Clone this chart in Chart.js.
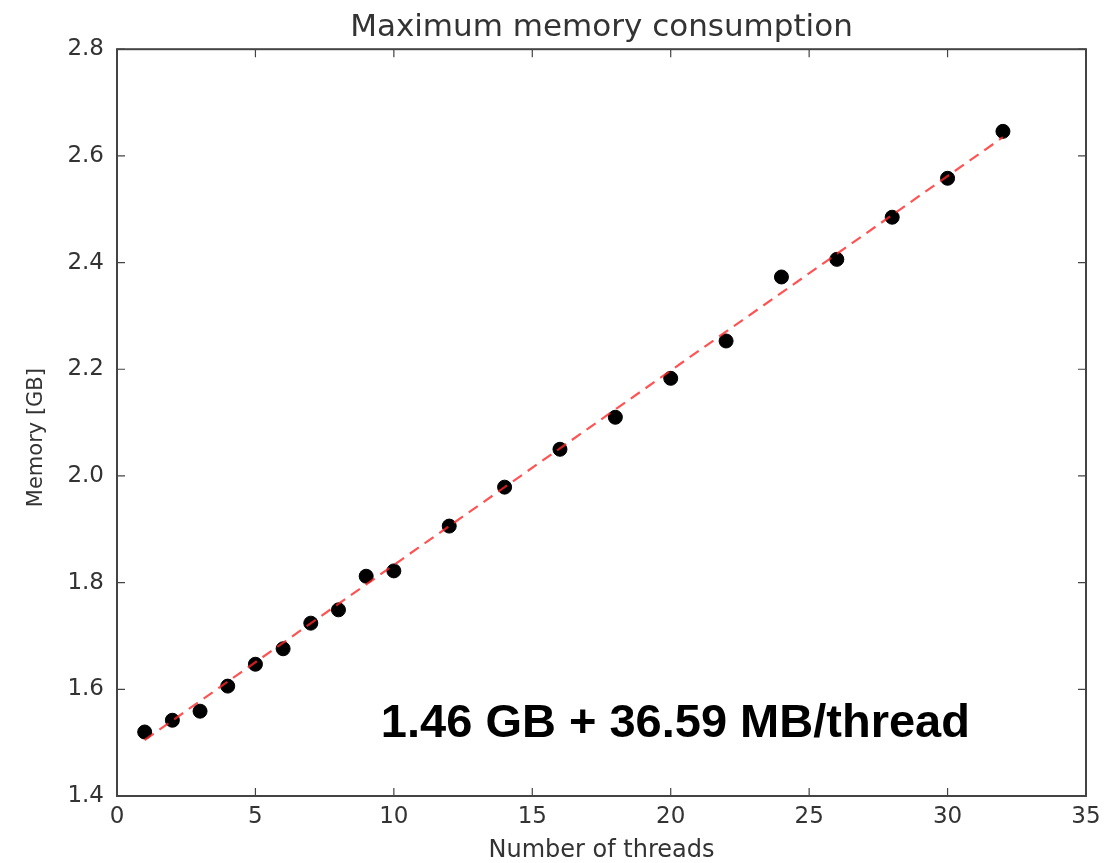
<!DOCTYPE html>
<html>
<head>
<meta charset="utf-8">
<title>Maximum memory consumption</title>
<script src="https://cdn.jsdelivr.net/npm/chart.js@4.4.1/dist/chart.umd.min.js"></script>
<style>
  html, body { margin: 0; padding: 0; background: #fff; }
  #wrap { width: 1115px; height: 863px; }
</style>
</head>
<body>
<div id="wrap"><canvas id="memChart" width="1115" height="863"></canvas></div>
<script>
// --- data ---
const threads = [1, 2, 3, 4, 5, 6, 7, 8, 9, 10, 12, 14, 16, 18, 20, 22, 24, 26, 28, 30, 32];
const memoryGB = [1.520, 1.542, 1.559, 1.606, 1.647, 1.676, 1.724, 1.749, 1.812, 1.822,
                  1.906, 1.979, 2.050, 2.110, 2.183, 2.253, 2.373, 2.406, 2.485, 2.558, 2.646];

// fitted line, read at its two ends
const fitThreads = [1, 32];
const fitMemory = [1.505, 2.635];

const fitLabel = '1.46 GB + 36.59 MB/thread';
const yTitle = 'Memory [GB]';

const xTicks = [0, 5, 10, 15, 20, 25, 30, 35];
const yTicks = [1.4, 1.6, 1.8, 2.0, 2.2, 2.4, 2.6, 2.8];

const FONT = '"DejaVu Sans", sans-serif';
const INK = '#333';
const FRAME = '#444';

// frame + inward ticks, matplotlib style
const framePlugin = {
    id: 'frame',
    afterDraw(chart) {
        const { ctx, chartArea: a, scales } = chart;
        ctx.save();
        ctx.strokeStyle = FRAME;
        ctx.lineWidth = 2;
        ctx.strokeRect(a.left, a.top, a.right - a.left, a.bottom - a.top);
        ctx.lineWidth = 1.2;
        ctx.beginPath();
        xTicks.forEach(v => {
            const px = scales.x.getPixelForValue(v);
            ctx.moveTo(px, a.bottom); ctx.lineTo(px, a.bottom - 8);
            ctx.moveTo(px, a.top); ctx.lineTo(px, a.top + 8);
        });
        yTicks.forEach(v => {
            const py = scales.y.getPixelForValue(v);
            ctx.moveTo(a.left, py); ctx.lineTo(a.left + 8, py);
            ctx.moveTo(a.right, py); ctx.lineTo(a.right - 8, py);
        });
        ctx.stroke();

        // y axis title (sits a bit below the axis middle in the original)
        ctx.save();
        ctx.translate(37, (a.top + a.bottom) / 2 + 15);
        ctx.rotate(-Math.PI / 2);
        ctx.fillStyle = INK;
        ctx.font = '21px ' + FONT;
        ctx.textAlign = 'center';
        ctx.textBaseline = 'middle';
        ctx.fillText(yTitle, 0, 0);
        ctx.restore();

        // fit annotation, anchored in data units
        ctx.fillStyle = '#000';
        ctx.font = 'bold 47px "Liberation Sans", Arial, sans-serif';
        ctx.textAlign = 'left';
        ctx.textBaseline = 'alphabetic';
        ctx.fillText(fitLabel, scales.x.getPixelForValue(9.53), scales.y.getPixelForValue(1.511));
        ctx.restore();
    }
};

new Chart(document.getElementById('memChart'), {
    type: 'scatter',
    data: {
        datasets: [
            {
                type: 'line',
                label: 'fit',
                data: fitThreads.map((t, i) => ({ x: t, y: fitMemory[i] })),
                borderColor: 'rgba(255, 40, 40, 0.8)',
                borderWidth: 2.2,
                borderDash: [11, 7],
                pointRadius: 0,
                fill: false,
                order: 0
            },
            {
                label: 'memory',
                data: threads.map((t, i) => ({ x: t, y: memoryGB[i] })),
                backgroundColor: '#000',
                borderColor: '#000',
                pointRadius: 7,
                order: 1
            }
        ]
    },
    options: {
        responsive: false,
        animation: false,
        layout: { padding: { left: 0, right: 29, top: 0, bottom: 0 } },
        plugins: {
            legend: { display: false },
            tooltip: { enabled: false },
            title: {
                display: true,
                fullSize: false,
                text: 'Maximum memory consumption',
                color: INK,
                font: { family: FONT, size: 31, weight: 'normal' },
                padding: { top: 9, bottom: 3 }
            }
        },
        scales: {
            x: {
                type: 'linear',
                min: 0, max: 35,
                afterBuildTicks: s => { s.ticks = xTicks.map(v => ({ value: v })); },
                afterFit: s => { s.height = 67; },
                grid: { display: false, drawTicks: false },
                border: { display: false },
                ticks: { color: INK, font: { family: FONT, size: 23 }, padding: 7 },
                title: {
                    display: true, text: 'Number of threads', color: INK,
                    font: { family: FONT, size: 24, lineHeight: 1.0 }, padding: { top: 0, bottom: 0 }
                }
            },
            y: {
                type: 'linear',
                min: 1.4, max: 2.8,
                afterBuildTicks: s => { s.ticks = yTicks.map(v => ({ value: v })); },
                afterFit: s => { s.width = 117; },
                grid: { display: false, drawTicks: false },
                border: { display: false },
                ticks: {
                    color: INK, font: { family: FONT, size: 23 }, padding: 13,
                    callback: v => Number(v).toFixed(1)
                },
                title: { display: false }
            }
        }
    },
    plugins: [framePlugin]
});
</script>
</body>
</html>
